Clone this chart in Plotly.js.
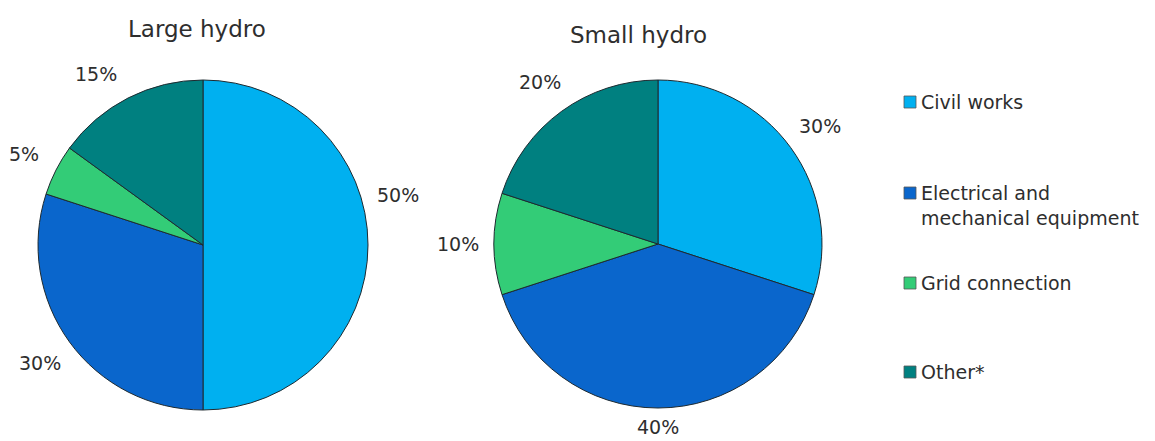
<!DOCTYPE html>
<html>
<head>
<meta charset="utf-8">
<script src="https://cdn.plot.ly/plotly-3.0.1.min.js"></script>
<style>html,body{margin:0;padding:0;background:#fff;}#chart{width:1155px;height:441px;}</style>
</head>
<body>
<div id="chart"></div>
<script>
const categories = ["Civil works", "Electrical and<br>mechanical equipment", "Grid connection", "Other*"];
const largeHydro = [50, 30, 5, 15];
const smallHydro = [30, 40, 10, 20];
const pieTitles = ["Large hydro", "Small hydro"];
const colors = ["#00B0F0", "#0A66CC", "#33CC77", "#008080"];

const W = 1155, H = 441;
const txtColor = "#2E2E2E";
const font = "DejaVu Sans, Arial, sans-serif";

// pie geometry in pixels (center x, center y, radius)
const pies = [
  {cx: 203, cy: 245, r: 165, labelR: 1.22, title: {x: 197, y: 29}},
  {cx: 658, cy: 244, r: 164, labelR: 1.22, title: {x: 638, y: 35}}
];
const seriesValues = [largeHydro, smallHydro];
// Excel moved some labels off their mid-angle
const angleOverride = {"0-0": 75.5, "0-3": 328};
const radiusOverride = {"1-1": 1.115};

const px = x => x / W;
const py = y => 1 - y / H;

const traces = pies.map((p, i) => ({
  type: "pie",
  values: seriesValues[i],
  labels: categories,
  sort: false,
  direction: "clockwise",
  rotation: 0,
  textinfo: "none",
  hoverinfo: "label+percent",
  showlegend: false,
  marker: {colors: colors, line: {color: "#1E2A30", width: 1}},
  domain: {x: [px(p.cx - p.r), px(p.cx + p.r)], y: [py(p.cy + p.r), py(p.cy - p.r)]}
}));

const annotations = [];
const shapes = [];
pies.forEach((p, i) => {
  const vals = seriesValues[i];
  annotations.push({
    xref: "paper", yref: "paper", x: px(p.title.x), y: py(p.title.y),
    xanchor: "center", yanchor: "middle", showarrow: false,
    text: pieTitles[i], font: {family: font, size: 23, color: txtColor}
  });
  const total = vals.reduce((a, b) => a + b, 0);
  let cum = 0;
  vals.forEach((v, j) => {
    let mid = (cum + v / 2) / total * 360;
    cum += v;
    const key = i + "-" + j;
    if (angleOverride[key] !== undefined) mid = angleOverride[key];
    const k = radiusOverride[key] !== undefined ? radiusOverride[key] : p.labelR;
    const a = mid * Math.PI / 180;
    const lx = p.cx + p.r * k * Math.sin(a);
    const ly = p.cy - p.r * k * Math.cos(a);
    annotations.push({
      xref: "paper", yref: "paper", x: px(lx), y: py(ly),
      xanchor: "center", yanchor: "middle", showarrow: false,
      text: Math.round(v / total * 100) + "%",
      font: {family: font, size: 19, color: txtColor}
    });
  });
});

// custom legend
const legendY = [102, 205, 283, 372];
const legendSqY = [102, 193, 283, 372];
categories.forEach((c, j) => {
  shapes.push({
    type: "rect", xref: "paper", yref: "paper",
    x0: px(904), x1: px(916), y0: py(legendSqY[j] + 6), y1: py(legendSqY[j] - 6),
    fillcolor: colors[j], line: {color: "#555555", width: 0.8}
  });
  annotations.push({
    xref: "paper", yref: "paper", x: px(919), y: py(legendY[j]),
    xanchor: "left", yanchor: "middle", align: "left", showarrow: false,
    text: c, font: {family: font, size: 19, color: txtColor}
  });
});

const layout = {
  width: W, height: H,
  margin: {l: 0, r: 0, t: 0, b: 0},
  paper_bgcolor: "#ffffff",
  plot_bgcolor: "#ffffff",
  showlegend: false,
  annotations: annotations,
  shapes: shapes
};

Plotly.newPlot("chart", traces, layout, {displayModeBar: false, staticPlot: true});
</script>
</body>
</html>
